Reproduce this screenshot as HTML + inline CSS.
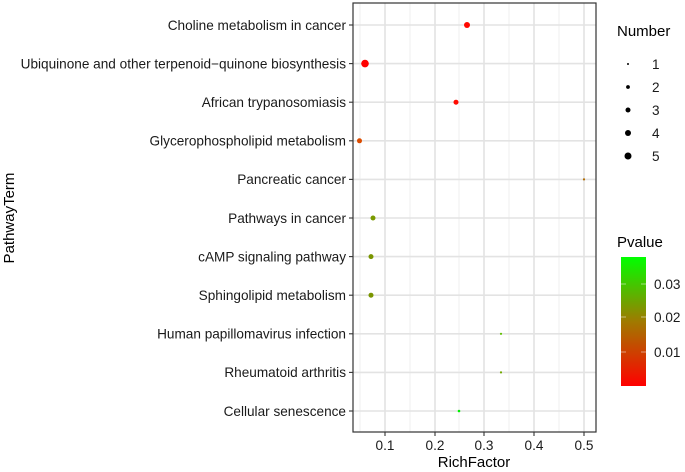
<!DOCTYPE html>
<html><head><style>body{margin:0;background:#fff}svg{display:block}text{font-family:"Liberation Sans",Arial,sans-serif}</style></head>
<body>
<svg width="685" height="472" viewBox="0 0 685 472" xmlns="http://www.w3.org/2000/svg">
<defs><linearGradient id="g" x1="0" y1="1" x2="0" y2="0">
<stop offset="0" stop-color="#ff0000"/><stop offset="0.5" stop-color="#a07a00"/><stop offset="1" stop-color="#00ff00"/></linearGradient></defs>
<rect x="353" y="3" width="243" height="429" fill="#fff"/>
<g stroke="#ebebeb" stroke-width="0.8">
<line x1="360" y1="3" x2="360" y2="432"/><line x1="410" y1="3" x2="410" y2="432"/><line x1="459" y1="3" x2="459" y2="432"/><line x1="509" y1="3" x2="509" y2="432"/><line x1="559" y1="3" x2="559" y2="432"/>
</g>
<g stroke="#e3e3e3" stroke-width="1.6">
<line x1="385" y1="3" x2="385" y2="432"/><line x1="435" y1="3" x2="435" y2="432"/><line x1="484" y1="3" x2="484" y2="432"/><line x1="534" y1="3" x2="534" y2="432"/><line x1="584" y1="3" x2="584" y2="432"/>
<line x1="353" y1="25" x2="596" y2="25"/><line x1="353" y1="63.6" x2="596" y2="63.6"/><line x1="353" y1="102.2" x2="596" y2="102.2"/><line x1="353" y1="140.8" x2="596" y2="140.8"/><line x1="353" y1="179.4" x2="596" y2="179.4"/><line x1="353" y1="218" x2="596" y2="218"/><line x1="353" y1="256.6" x2="596" y2="256.6"/><line x1="353" y1="295.2" x2="596" y2="295.2"/><line x1="353" y1="333.8" x2="596" y2="333.8"/><line x1="353" y1="372.4" x2="596" y2="372.4"/><line x1="353" y1="411" x2="596" y2="411"/>
</g>
<rect x="353" y="3" width="243" height="429" fill="none" stroke="#333" stroke-width="1.2"/>
<g>
<circle cx="467" cy="25" r="3" fill="#ff0800"/>
<circle cx="365" cy="63.6" r="3.8" fill="#ff0000"/>
<circle cx="456" cy="102.2" r="2.5" fill="#ff0a00"/>
<circle cx="359.5" cy="140.8" r="2.5" fill="#dc4c00"/>
<circle cx="584" cy="179.4" r="1.1" fill="#b06a00"/>
<circle cx="373" cy="218" r="2.5" fill="#7a9a00"/>
<circle cx="371" cy="256.6" r="2.5" fill="#7a9500"/>
<circle cx="371" cy="295.2" r="2.5" fill="#7a9500"/>
<circle cx="501" cy="333.8" r="1.1" fill="#5fc000"/>
<circle cx="501" cy="372.4" r="1.1" fill="#70a800"/>
<circle cx="459" cy="411" r="1.3" fill="#00f000"/>
</g>
<g stroke="#333" stroke-width="1.1">
<line x1="349" y1="25" x2="353" y2="25"/><line x1="349" y1="63.6" x2="353" y2="63.6"/><line x1="349" y1="102.2" x2="353" y2="102.2"/><line x1="349" y1="140.8" x2="353" y2="140.8"/><line x1="349" y1="179.4" x2="353" y2="179.4"/><line x1="349" y1="218" x2="353" y2="218"/><line x1="349" y1="256.6" x2="353" y2="256.6"/><line x1="349" y1="295.2" x2="353" y2="295.2"/><line x1="349" y1="333.8" x2="353" y2="333.8"/><line x1="349" y1="372.4" x2="353" y2="372.4"/><line x1="349" y1="411" x2="353" y2="411"/>
<line x1="385" y1="432" x2="385" y2="436"/><line x1="435" y1="432" x2="435" y2="436"/><line x1="484" y1="432" x2="484" y2="436"/><line x1="534" y1="432" x2="534" y2="436"/><line x1="584" y1="432" x2="584" y2="436"/>
</g>
<g font-size="13.6" fill="#1a1a1a" text-anchor="end">
<text x="346" y="29.8">Choline metabolism in cancer</text>
<text x="346" y="68.4">Ubiquinone and other terpenoid−quinone biosynthesis</text>
<text x="346" y="107">African trypanosomiasis</text>
<text x="346" y="145.6">Glycerophospholipid metabolism</text>
<text x="346" y="184.2">Pancreatic cancer</text>
<text x="346" y="222.8">Pathways in cancer</text>
<text x="346" y="261.4">cAMP signaling pathway</text>
<text x="346" y="300">Sphingolipid metabolism</text>
<text x="346" y="338.6">Human papillomavirus infection</text>
<text x="346" y="377.2">Rheumatoid arthritis</text>
<text x="346" y="415.8">Cellular senescence</text>
</g>
<g font-size="13.6" fill="#1a1a1a" text-anchor="middle">
<text x="385" y="450">0.1</text><text x="435" y="450">0.2</text><text x="484" y="450">0.3</text><text x="534" y="450">0.4</text><text x="584" y="450">0.5</text>
</g>
<text x="474" y="467" font-size="15" text-anchor="middle" fill="#000">RichFactor</text>
<text transform="translate(14,218) rotate(-90)" font-size="15" text-anchor="middle" fill="#000">PathwayTerm</text>
<text x="617" y="36" font-size="15" fill="#000">Number</text>
<g fill="#000">
<circle cx="628" cy="64" r="1"/><circle cx="628" cy="87" r="1.9"/><circle cx="628" cy="110" r="2.5"/><circle cx="628" cy="133" r="3"/><circle cx="628" cy="156" r="3.5"/>
</g>
<g font-size="13.6" fill="#1a1a1a">
<text x="652" y="69">1</text><text x="652" y="92">2</text><text x="652" y="115">3</text><text x="652" y="138">4</text><text x="652" y="161">5</text>
</g>
<text x="617" y="247" font-size="15" fill="#000">Pvalue</text>
<rect x="621" y="257" width="25" height="129" fill="url(#g)"/>
<g stroke="#fff" stroke-width="0.8" opacity="0.6">
<line x1="621" y1="284" x2="626" y2="284"/><line x1="641" y1="284" x2="646" y2="284"/>
<line x1="621" y1="317" x2="626" y2="317"/><line x1="641" y1="317" x2="646" y2="317"/>
<line x1="621" y1="352" x2="626" y2="352"/><line x1="641" y1="352" x2="646" y2="352"/>
</g>
<g font-size="13.6" fill="#1a1a1a">
<text x="654" y="289">0.03</text><text x="654" y="322">0.02</text><text x="654" y="357">0.01</text>
</g>
</svg>
</body></html>
